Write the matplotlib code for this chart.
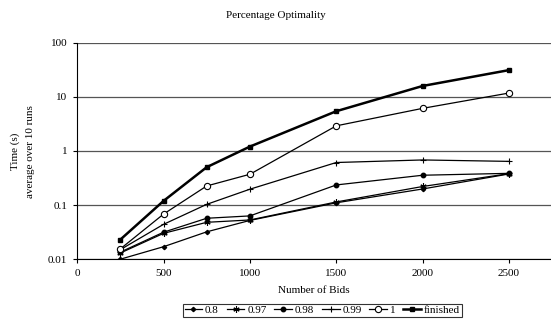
import numpy as np
from matplotlib import pyplot as plt

plt.rcParams['font.family'] = ['Liberation Serif', 'DejaVu Serif']
plt.rcParams['font.size'] = 8

bids = [250, 500, 750, 1000, 1500, 2000, 2500]
opt_08 = [0.010, 0.017, 0.032, 0.052, 0.110, 0.198, 0.375]
opt_097 = [0.013, 0.030, 0.048, 0.053, 0.114, 0.220, 0.380]
opt_098 = [0.0135, 0.0315, 0.057, 0.063, 0.235, 0.355, 0.385]
opt_099 = [0.015, 0.044, 0.103, 0.196, 0.61, 0.68, 0.64]
opt_1 = [0.0155, 0.068, 0.225, 0.37, 2.9, 6.1, 11.7]
finished = [0.023, 0.119, 0.50, 1.2, 5.4, 15.8, 31.0]

labels = ['0.8', '0.97', '0.98', '0.99', '1', 'finished']

fig = plt.figure(figsize=(5.51, 3.2), dpi=100)
ax = fig.add_axes([0.14, 0.19, 0.86, 0.677])

ax.plot(bids, opt_08, color='black', lw=0.9, marker='D', ms=2.2, label=labels[0])
ax.plot(bids, opt_097, color='black', lw=0.9, marker=(6, 2, 0), ms=4.5, mew=0.8, label=labels[1])
ax.plot(bids, opt_098, color='black', lw=0.9, marker='o', ms=3.2, label=labels[2])
ax.plot(bids, opt_099, color='black', lw=0.9, marker='+', ms=4.5, mew=0.8, label=labels[3])
ax.plot(bids, opt_1, color='black', lw=0.9, marker='o', ms=4.5, mfc='white', mew=0.8, label=labels[4])
ax.plot(bids, finished, color='black', lw=1.8, marker='s', ms=3.5, label=labels[5])

ax.set_yscale('log')
ax.set_ylim(0.01, 100)
ax.set_xlim(0, 2743)
ax.set_xticks([0, 500, 1000, 1500, 2000, 2500])
ax.set_yticks([0.01, 0.1, 1, 10, 100])
ax.set_yticklabels(['0.01', '0.1', '1', '10', '100'])
ax.yaxis.set_minor_locator(plt.NullLocator())
ax.grid(axis='y', color='#555555', lw=0.9)
ax.set_axisbelow(True)
for s in ['top', 'right']:
    ax.spines[s].set_visible(False)
ax.tick_params(direction='out', length=3, width=0.8, pad=4)

ax.set_xlabel('Number of Bids', labelpad=6)
fig.text(0.028, 0.527, 'Time (s)', rotation=90, ha='center', va='center')
fig.text(0.055, 0.527, 'average over 10 runs', rotation=90, ha='center', va='center')
fig.text(0.5, 0.953, 'Percentage Optimality', ha='center', va='center')

leg = fig.legend(loc='center', bbox_to_anchor=(0.585, 0.03), ncol=6, frameon=True,
                 fancybox=False, edgecolor='black', handlelength=1.6, handletextpad=0.25,
                 columnspacing=0.7, borderpad=0.15, fontsize=8)
leg.get_frame().set_linewidth(0.8)

fig.savefig('out.png', dpi=100)
